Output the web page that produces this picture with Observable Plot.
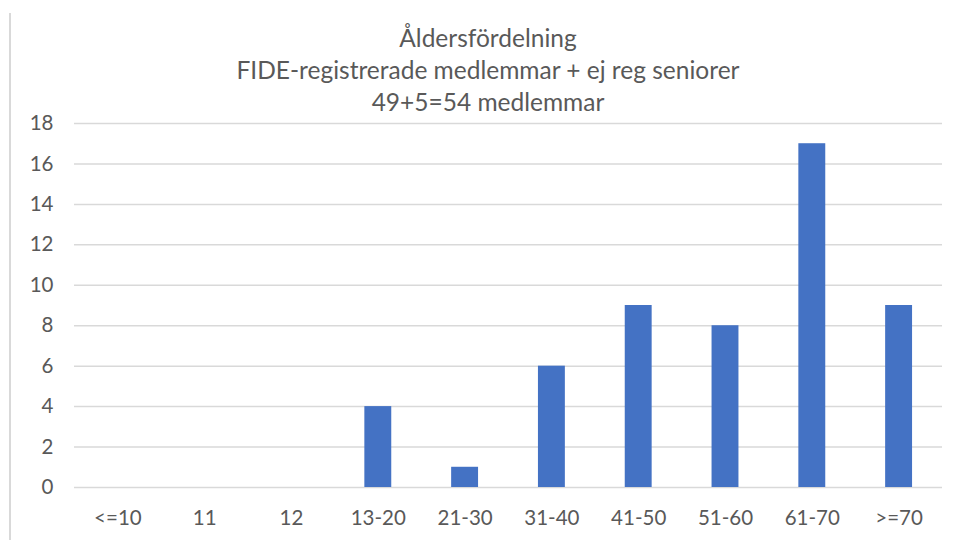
<!DOCTYPE html>
<html>
<head>
<meta charset="utf-8">
<script src="https://cdn.jsdelivr.net/npm/d3@7"></script>
<script src="https://cdn.jsdelivr.net/npm/@observablehq/plot@0.6"></script>
<style>
  html, body { margin: 0; padding: 0; background: #fff; }
  #wrap { position: relative; width: 960px; height: 540px; overflow: hidden; font-family: Lato, "Open Sans", sans-serif; }
  #border { position: absolute; left: 9px; top: 13px; width: 2px; height: 530px; background: #d9d9d9; }
  #title { position: absolute; left: 0; top: 22px; width: 976px; text-align: center; color: #595959; font-size: 24.5px; line-height: 32px; }
  #chart { position: absolute; left: 0; top: 0; }
  #chart svg text { font-size: 20.5px; }
</style>
</head>
<body>
<div id="wrap">
  <div id="border"></div>
  <div id="chart"></div>
  <div id="title">Åldersfördelning<br>FIDE-registrerade medlemmar + ej reg seniorer<br>49+5=54 medlemmar</div>
</div>
<script>
const categories = ["<=10", "11", "12", "13-20", "21-30", "31-40", "41-50", "51-60", "61-70", ">=70"];
const counts = [0, 0, 0, 4, 1, 6, 9, 8, 17, 9];
const yTicks = [0, 2, 4, 6, 8, 10, 12, 14, 16, 18];

const data = categories.map((c, i) => ({category: c, count: counts[i]}));

const chart = Plot.plot({
  width: 960,
  height: 540,
  marginLeft: 74,
  marginRight: 18,
  marginTop: 123,
  marginBottom: 53,
  style: "font-family: Lato, 'Open Sans', sans-serif; font-size: 20.5px; color: #595959; background: transparent;",
  x: {domain: categories, paddingInner: 0.69, paddingOuter: 0.345, align: 0.5, round: false},
  y: {domain: [0, 18]},
  marks: [
    Plot.ruleY(yTicks, {stroke: "#d9d9d9", strokeWidth: 1.5}),
    Plot.barY(data, {x: "category", y: "count", fill: "#4472C4"}),
    Plot.axisY(yTicks, {tickSize: 0, tickPadding: 21, label: null, fill: "#595959"}),
    Plot.axisX({tickSize: 0, tickPadding: 23, label: null, fill: "#595959"})
  ]
});
document.getElementById("chart").appendChild(chart);
</script>
</body>
</html>
